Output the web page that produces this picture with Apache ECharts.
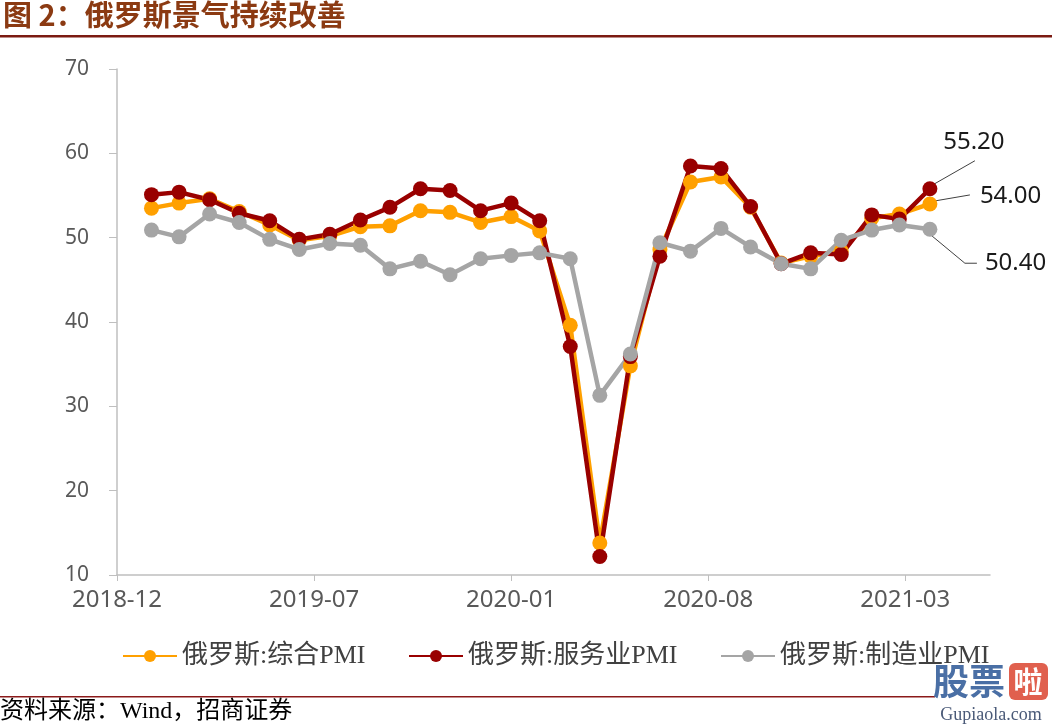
<!DOCTYPE html>
<html>
<head>
<meta charset="utf-8">
<title>俄罗斯景气持续改善</title>
<script src="https://cdn.jsdelivr.net/npm/echarts@6/dist/echarts.min.js"></script>
<style>
  html, body { margin: 0; padding: 0; background: #fff; }
  #main { width: 1052px; height: 727px; }
</style>
</head>
<body>
<div id="main"></div>
<script>
// 月度数据（月末），2019-01 ~ 2021-03
var months = ['2019-01','2019-02','2019-03','2019-04','2019-05','2019-06','2019-07','2019-08','2019-09','2019-10','2019-11','2019-12',
              '2020-01','2020-02','2020-03','2020-04','2020-05','2020-06','2020-07','2020-08','2020-09','2020-10','2020-11','2020-12',
              '2021-01','2021-02','2021-03'];
var composite = [53.5, 54.1, 54.6, 53.1, 51.5, 49.7, 50.2, 51.3, 51.4, 53.2, 53.0, 51.8,
                 52.5, 50.8, 39.6, 13.8, 34.8, 48.6, 56.6, 57.2, 53.6, 47.0, 47.8, 48.4,
                 52.3, 52.8, 54.0];
var services = [55.1, 55.4, 54.5, 52.9, 52.0, 49.8, 50.4, 52.1, 53.6, 55.8, 55.6, 53.2,
                54.1, 52.0, 37.1, 12.2, 35.9, 47.8, 58.5, 58.2, 53.7, 46.9, 48.2, 48.0,
                52.7, 52.2, 55.8];
var manufacturing = [50.9, 50.1, 52.8, 51.8, 49.8, 48.6, 49.3, 49.1, 46.3, 47.2, 45.6, 47.5,
                     47.9, 48.2, 47.5, 31.3, 36.2, 49.4, 48.4, 51.1, 48.9, 46.9, 46.3, 49.7,
                     50.9, 51.5, 51.0];
var seriesNames = ['俄罗斯:综合PMI', '俄罗斯:服务业PMI', '俄罗斯:制造业PMI'];
var xTickLabels = ['2018-12', '2019-07', '2020-01', '2020-08', '2021-03'];
var endLabels = ['54.00', '55.20', '50.40'];

// 日期轴：以天计，起点 2018-12-27，每 200 天一个刻度
var DAY = 86400000;
var axisStart = Date.UTC(2018, 11, 27);
var tickStep = 200;
var xTickValues = xTickLabels.map(function (l, i) { return i * tickStep; });
function monthEndDay(m) {
  var p = m.split('-');
  return Math.round((Date.UTC(+p[0], +p[1], 0) - axisStart) / DAY);
}
function toPairs(arr) {
  return months.map(function (m, i) { return [monthEndDay(m), arr[i]]; });
}

var colors = ['#FFA000', '#990000', '#A5A5A5'];
var allData = [composite, services, manufacturing];

var chart = echarts.init(document.getElementById('main'));

var legendLeft = [117, 403, 715];
var option = {
  animation: false,
  grid: { left: 117, right: 62, top: 69, bottom: 152 },
  legend: seriesNames.map(function (n, i) {
    return {
      data: [n], left: legendLeft[i], top: 638,
      itemWidth: 54, itemHeight: 15,
      textStyle: { fontSize: 26, color: '#404040', fontFamily: '"Liberation Serif", "Noto Sans CJK SC"' }
    };
  }),
  xAxis: {
    type: 'value', min: 0, max: 886,
    axisLine: { show: true, lineStyle: { color: '#BFBFBF', width: 1.5 } },
    axisTick: { show: true, customValues: xTickValues, length: 6, lineStyle: { color: '#BFBFBF' } },
    axisLabel: {
      customValues: xTickValues,
      formatter: function (v) { return xTickLabels[Math.round(v / tickStep)]; },
      color: '#595959', fontSize: 24, fontFamily: 'Noto Sans', margin: 13
    },
    splitLine: { show: false }
  },
  yAxis: {
    type: 'value', min: 10, max: 70, interval: 10,
    axisLine: { show: true, lineStyle: { color: '#BFBFBF', width: 1.5 } },
    axisTick: { show: true, length: 8, lineStyle: { color: '#BFBFBF' } },
    axisLabel: { color: '#595959', fontSize: 21, fontFamily: 'Noto Sans', margin: 28 },
    splitLine: { show: false }
  },
  series: seriesNames.map(function (n, i) {
    return {
      name: n, type: 'line', data: toPairs(allData[i]),
      symbol: 'circle', symbolSize: 15,
      itemStyle: { color: colors[i] },
      lineStyle: { color: colors[i], width: 4.5 }
    };
  })
};
chart.setOption(option);

// 标注与页面装饰
var graphics = [
  { type: 'text', left: 3, top: 0, style: { text: '图 2：俄罗斯景气持续改善', font: 'bold 29px "Noto Sans CJK SC"', fill: '#8B3A12' } },
  { type: 'rect', shape: { x: 0, y: 35, width: 1052, height: 2.5 }, style: { fill: '#7B1A12' } },
  { type: 'rect', shape: { x: 0, y: 696, width: 935, height: 1.5 }, style: { fill: '#8B1A1A' } },
  { type: 'text', style: { text: '资料来源：Wind，招商证券', x: 0, y: 712, verticalAlign: 'middle',
      font: '24px "Liberation Serif", "Noto Sans CJK SC"', fill: '#000' } },
  { type: 'text', style: { text: '股票', x: 933, y: 681, verticalAlign: 'middle',
      font: 'bold 36px "Noto Sans CJK SC"', fill: '#4A6FA5' } },
  { type: 'rect', shape: { x: 1009, y: 663, width: 39, height: 37, r: 6 }, style: { fill: '#E0604E' } },
  { type: 'text', style: { text: '啦', x: 1028, y: 682, align: 'center', verticalAlign: 'middle',
      font: 'bold 29px "Noto Sans CJK SC"', fill: '#fff' } },
  { type: 'text', style: { text: 'Gupiaola.com', x: 991, y: 715, align: 'center', verticalAlign: 'middle',
      font: '18px "Liberation Serif"', fill: '#4A5A78' } }
];

// 末端数据标签（引导线）
var last = months.length - 1;
var labelCfg = [
  { dx: 50, dy: -8, align: 'left', line: [[5, -3], [40, -9]] },
  { dx: 44, dy: -47, align: 'center', line: [[3, -4], [45, -28]] },
  { dx: 55, dy: 34, align: 'left', line: [[0, 5], [35, 34], [47, 34]] }
];
labelCfg.forEach(function (c, i) {
  var p = chart.convertToPixel({ gridIndex: 0 }, [monthEndDay(months[last]), allData[i][last]]);
  graphics.push({
    type: 'polyline',
    shape: { points: c.line.map(function (d) { return [p[0] + d[0], p[1] + d[1]]; }) },
    style: { stroke: '#404040', lineWidth: 1, fill: null }
  });
  graphics.push({
    type: 'text',
    style: { text: endLabels[i], x: p[0] + c.dx, y: p[1] + c.dy, align: c.align, verticalAlign: 'middle',
             font: '24px "Noto Sans"', fill: '#1A1A1A' }
  });
});
chart.setOption({ graphic: graphics });
</script>
</body>
</html>
